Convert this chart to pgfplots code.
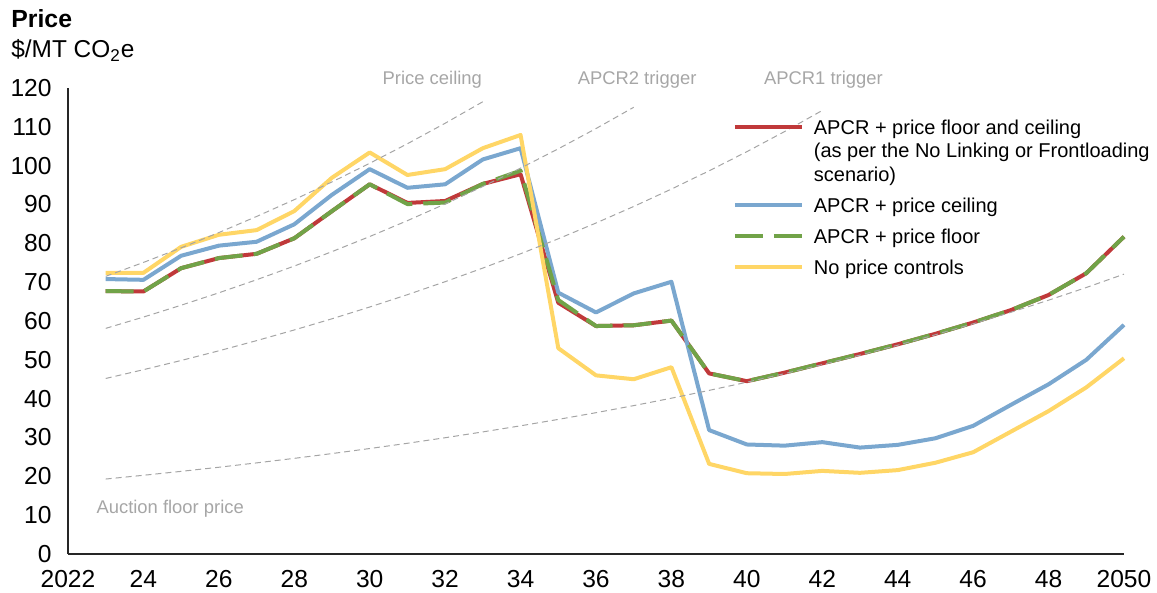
\documentclass[border=0pt]{standalone}
\usepackage{pgfplots}
\pgfplotsset{compat=1.18}
\usepackage{fontspec}
\setmainfont{Liberation Sans}

\definecolor{capred}{RGB}{192,57,58}
\definecolor{capblue}{RGB}{122,167,207}
\definecolor{capgreen}{RGB}{113,163,72}
\definecolor{capyellow}{RGB}{255,214,102}
\definecolor{refgray}{RGB}{165,165,165}
\definecolor{labgray}{RGB}{166,166,166}

\begin{document}
\begin{tikzpicture}
\begin{axis}[
    scale only axis,
    width=528pt, height=233pt,
    xmin=2022, xmax=2050, ymin=0, ymax=120,
    axis lines=left,
    axis line style={-, black!85, line width=0.8pt},
    xtick={2022,2024,...,2050},
    xticklabels={2022,24,26,28,30,32,34,36,38,40,42,44,46,48,2050},
    ytick={0,10,...,120},
    major tick length=0pt,
    tick label style={font=\fontsize{12.3}{14}\selectfont, inner sep=0pt},
    xticklabel style={yshift=-8pt},
    yticklabel style={xshift=-8pt},
    /pgf/number format/assume math mode=true,
    clip=false,
    every axis plot/.append style={line width=2pt, line join=round},
    refline/.style={forget plot, refgray, line width=0.5pt, dash pattern=on 3pt off 2pt},
    legend image code/.code={\draw[#1, line cap=butt] (0pt,3.6pt) -- (33.5pt,3.6pt);},
    legend style={draw=none, fill=none, inner sep=0pt, outer sep=0pt,
        at={(axis cs:2039.63,111.85)}, anchor=north west,
        font=\fontsize{10}{11.8}\selectfont,
        cells={anchor=base west},
        nodes={inner sep=0pt, text height=7.3pt, text depth=2.1pt},
        row sep=6.1pt, column sep=5pt},
]

% scenarios
\addplot[capred] coordinates {(2023,67.7)(2024,67.6)(2025,73.6)(2026,76.2)(2027,77.3)
  (2028,81.3)(2029,88.3)(2030,95.2)(2031,90.4)(2032,90.9)(2033,95.3)(2034,97.8)
  (2035,64.7)(2036,58.7)(2037,58.9)(2038,60.1)(2039,46.5)(2040,44.5)(2041,46.7)
  (2042,49.1)(2043,51.5)(2044,54.0)(2045,56.7)(2046,59.6)(2047,62.8)(2048,66.7)
  (2049,72.3)(2050,81.7)};
\addlegendentry[text depth=25.7pt]{\parbox[t]{170pt}{APCR + price floor and ceiling\\(as per the No Linking or Frontloading\\scenario)}}

\addplot[capblue] coordinates {(2023,70.8)(2024,70.6)(2025,76.8)(2026,79.4)(2027,80.4)
  (2028,84.9)(2029,92.5)(2030,99.1)(2031,94.3)(2032,95.2)(2033,101.6)(2034,104.5)
  (2035,67.3)(2036,62.2)(2037,67.1)(2038,70.1)(2039,31.9)(2040,28.2)(2041,27.9)
  (2042,28.8)(2043,27.4)(2044,28.1)(2045,29.8)(2046,33.0)(2047,38.4)(2048,43.7)
  (2049,50.0)(2050,59.0)};
\addlegendentry{APCR + price ceiling}

\addplot[capgreen, dash pattern=on 14pt off 5.5pt] coordinates {(2023,67.7)(2024,67.6)(2025,73.6)
  (2026,76.2)(2027,77.3)(2028,81.3)(2029,88.3)(2030,95.2)(2031,90.1)(2032,90.5)(2033,95.3)
  (2034,98.7)(2035,65.4)(2036,58.7)(2037,58.9)(2038,60.1)(2039,46.5)(2040,44.5)(2041,46.7)
  (2042,49.1)(2043,51.5)(2044,54.0)(2045,56.7)(2046,59.6)(2047,62.8)(2048,66.7)
  (2049,72.3)(2050,81.7)};
\addlegendentry{APCR + price floor}

\addplot[capyellow] coordinates {(2023,72.4)(2024,72.4)(2025,79.1)(2026,82.2)(2027,83.4)
  (2028,88.3)(2029,96.9)(2030,103.4)(2031,97.6)(2032,99.1)(2033,104.5)(2034,107.9)
  (2035,53.0)(2036,46.0)(2037,45.0)(2038,48.1)(2039,23.2)(2040,20.8)(2041,20.6)
  (2042,21.4)(2043,20.9)(2044,21.6)(2045,23.5)(2046,26.2)(2047,31.5)(2048,36.8)
  (2049,42.9)(2050,50.4)};
\addlegendentry{No price controls}

% reference price paths (dashed grey, drawn on top)
\addplot[refline] coordinates {(2023,71.5)(2024,75.08)(2025,78.83)(2026,82.77)(2027,86.91)
  (2028,91.25)(2029,95.82)(2030,100.61)(2031,105.64)(2032,110.92)(2033,116.47)};
\addplot[refline] coordinates {(2023,58.1)(2024,61.01)(2025,64.06)(2026,67.26)(2027,70.62)
  (2028,74.15)(2029,77.86)(2030,81.75)(2031,85.84)(2032,90.13)(2033,94.64)(2034,99.37)
  (2035,104.34)(2036,109.56)(2037,115.03)};
\addplot[refline] coordinates {(2023,45.2)(2024,47.46)(2025,49.83)(2026,52.32)(2027,54.94)
  (2028,57.69)(2029,60.57)(2030,63.60)(2031,66.78)(2032,70.12)(2033,73.63)(2034,77.31)
  (2035,81.17)(2036,85.23)(2037,89.49)(2038,93.97)(2039,98.67)(2040,103.60)(2041,108.78)
  (2042,114.22)};
\addplot[refline] coordinates {(2023,19.30)(2024,20.27)(2025,21.28)(2026,22.34)(2027,23.46)
  (2028,24.63)(2029,25.86)(2030,27.16)(2031,28.51)(2032,29.94)(2033,31.44)(2034,33.01)
  (2035,34.66)(2036,36.39)(2037,38.21)(2038,40.12)(2039,42.13)(2040,44.24)(2041,46.45)
  (2042,48.77)(2043,51.21)(2044,53.77)(2045,56.46)(2046,59.28)(2047,62.24)(2048,65.36)
  (2049,68.62)(2050,72.06)};

\begin{scope}[every node/.style={labgray, font=\fontsize{9.2}{11}\selectfont, anchor=base}]
\node at (axis cs:2031.66,121.0) {Price ceiling};
\node at (axis cs:2037.09,121.0) {APCR2 trigger};
\node at (axis cs:2042.03,121.0) {APCR1 trigger};
\node at (axis cs:2024.71,10.5) {Auction floor price};
\end{scope}
\end{axis}

\node[anchor=base west, font=\bfseries\fontsize{12.4}{14}\selectfont, inner sep=0pt] at (-28.5pt,263pt) {Price};
\node[anchor=base west, font=\fontsize{12.2}{14}\selectfont, inner sep=0pt] at (-28.5pt,248pt) {\$/MT CO\textsubscript{2}e};
\path (-34pt,-19.5pt) rectangle (544.5pt,277pt);
\end{tikzpicture}
\end{document}
